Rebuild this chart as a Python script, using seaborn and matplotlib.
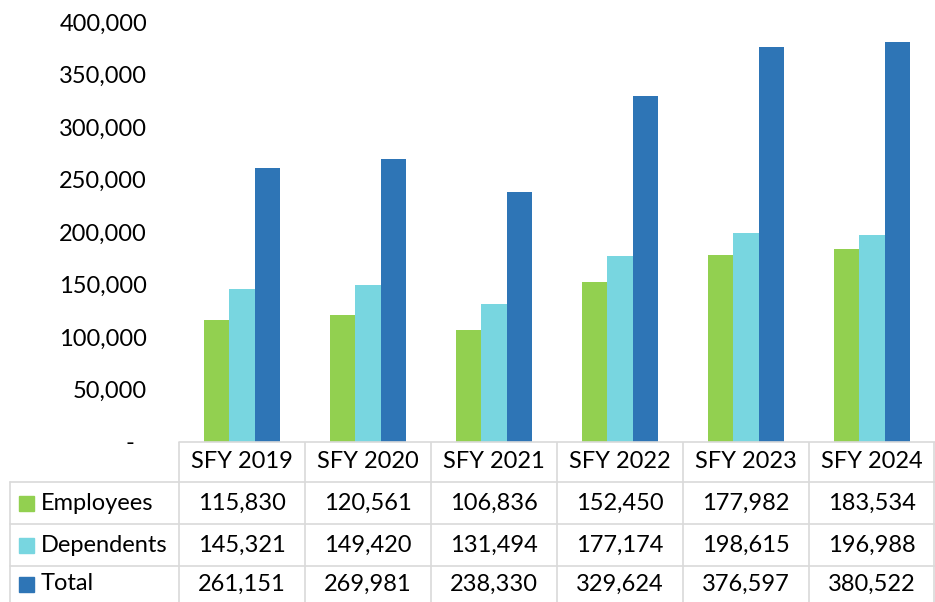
import pandas as pd
import numpy as np
import matplotlib.pyplot as plt
import seaborn as sns
from matplotlib.patches import Rectangle

# --- data ---
years = ["SFY 2019", "SFY 2020", "SFY 2021", "SFY 2022", "SFY 2023", "SFY 2024"]
employees = [115830, 120561, 106836, 152450, 177982, 183534]
dependents = [145321, 149420, 131494, 177174, 198615, 196988]
total = [261151, 269981, 238330, 329624, 376597, 380522]
series_names = ["Employees", "Dependents", "Total"]
colors = ["#92D050", "#78D6E0", "#2E75B6"]
y_ticks = [0, 50000, 100000, 150000, 200000, 250000, 300000, 350000, 400000]

series_values = [employees, dependents, total]
df = pd.DataFrame({
    "Year": years * 3,
    "Series": [s for s in series_names for _ in years],
    "Count": employees + dependents + total,
})

sns.set_theme(style="white")
plt.rcParams["font.family"] = ["Lato", "DejaVu Sans"]
FS = 17
GRID = "#d9d9d9"

# layout in pixels
W, H = 935, 602
left, right, bottom, top = 179, 935, 442, 22

fig = plt.figure(figsize=(W / 100, H / 100), dpi=100)
ax = fig.add_axes([left / W, 1 - bottom / H, (right - left) / W, (bottom - top) / H])

sns.barplot(data=df, x="Year", y="Count", hue="Series", palette=colors,
            width=0.6, saturation=1, legend=False, linewidth=0, ax=ax)
ax.set_ylim(0, 400000)
ax.set_xlim(-0.5, len(years) - 0.5)
ax.set_yticks(y_ticks)
ax.set_yticklabels(["-  " if v == 0 else f"{v:,}" for v in y_ticks])
ax.set_xticks([])
ax.set_xlabel("")
ax.set_ylabel("")
ax.tick_params(axis="y", length=0, pad=23, labelsize=FS, labelcolor="black")
for s in ax.spines.values():
    s.set_visible(False)

# --- data table under the chart ---
tab = fig.add_axes([0, 0, 1, (H - bottom) / H])
tab.set_xlim(0, W)
tab.set_ylim(H, bottom)
tab.axis("off")

col_w = (right - left) / len(years)
col_edges = [left + col_w * i for i in range(len(years) + 1)]
row_edges = [442, 482, 524, 566, 606]
lw = 1.2

tab.plot([left, W], [row_edges[0]] * 2, color=GRID, lw=lw, clip_on=False)
for ry in row_edges[1:4]:
    tab.plot([10, W], [ry, ry], color=GRID, lw=lw)
for cx in col_edges:
    tab.plot([min(cx, W - 1)] * 2, [row_edges[0], H], color=GRID, lw=lw)
tab.plot([10, 10], [row_edges[1], H], color=GRID, lw=lw)

# header
hy = (row_edges[0] + row_edges[1]) / 2
for i, yr in enumerate(years):
    tab.text((col_edges[i] + col_edges[i + 1]) / 2, hy, yr, ha="center", va="center",
             fontsize=FS, color="black")

# rows
for r, (name, vals, c) in enumerate(zip(series_names, series_values, colors)):
    cy = (row_edges[r + 1] + row_edges[r + 2]) / 2
    if r == 2:
        cy = 584
    tab.add_patch(Rectangle((19, cy - 7.5), 15, 15, color=c))
    tab.text(41, cy, name, ha="left", va="center", fontsize=FS, color="black")
    for i, v in enumerate(vals):
        tab.text((col_edges[i] + col_edges[i + 1]) / 2, cy, f"{v:,}", ha="center",
                 va="center", fontsize=FS, color="black")

fig.savefig("out.png", dpi=100)
